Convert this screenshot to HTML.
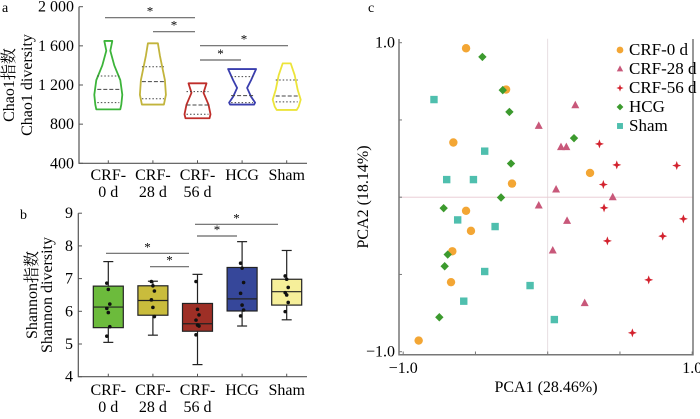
<!DOCTYPE html>
<html><head><meta charset="utf-8"><style>
body{margin:0;background:#fff}
svg{display:block;font-family:"Liberation Serif","Noto Serif CJK SC",serif}
</style></head><body>
<svg id="s" width="700" height="419" viewBox="0 0 700 419" xmlns="http://www.w3.org/2000/svg"></svg>
<script>
const categories=["CRF-0 d","CRF-28 d","CRF-56 d","HCG","Sham"];
// Panel a: violin stats
const vMin=[951,1000,860,1000,945];
const vMax=[1650,1626,1217,1363,1421];
const vQ1=[1020,1060,901,1020,1027];
const vMed=[1155,1234,996,1091,1088];
const vQ3=[1292,1387,1132,1285,1251];
const vDens=[
 [[1650,4],[1550,2],[1400,6],[1250,12],[1100,14],[1000,13],[951,12]],
 [[1626,5],[1500,7],[1400,9],[1250,12],[1100,13],[1000,11]],
 [[1217,9],[1120,6],[1000,11],[900,13],[860,12]],
 [[1363,14],[1250,9],[1170,5],[1080,9],[1020,13],[1000,12]],
 [[1421,4],[1300,8],[1150,11],[1050,14],[980,12],[945,10]]
];
const aTicks=[400,800,1200,1600,2000];
const aTickLabels=["400","800","1 200","1 600","2 000"];
// Panel b
const bLo=[5.05,5.27,4.37,5.55,5.74];
const bHi=[7.52,6.92,7.13,8.13,7.86];
const bQ1=[5.5,5.88,5.39,6.01,6.19];
const bMed=[6.13,6.33,5.62,6.38,6.6];
const bQ3=[6.77,6.78,6.24,7.34,6.98];
const bPts=[
 [6.86,6.67,6.22,6.09,5.96,5.53,5.24],
 [6.91,6.78,6.62,6.35,6.12,5.84],
 [6.91,6.06,5.89,5.73,5.58,5.55,5.28],
 [7.47,7.32,6.88,6.55,6.19,6.04,5.86],
 [7.08,6.98,6.73,6.57,6.5,6.27,5.99]
];
const bTicks=[4,5,6,7,8,9];
// PCA
const pcaGroups=["CRF-0 d","CRF-28 d","CRF-56 d","HCG","Sham"];
const pcaX=[
 [-0.565,-0.288,-0.653,0.293,-0.247,-0.565,-0.531,-0.660,-0.669,-0.893],
 [0.191,-0.062,0.092,0.129,0.058,0.450,-0.062,0.134,0.035,0.256],
 [0.358,0.478,0.893,0.385,0.390,0.939,0.796,0.413,0.699,0.586],
 [-0.452,-0.311,-0.265,0.182,-0.254,-0.323,-0.720,-0.692,-0.713,-0.750],
 [-0.787,-0.436,-0.699,-0.514,-0.623,-0.364,-0.436,-0.122,-0.581,0.046]
];
const pcaY=[
 [0.964,0.697,0.354,0.157,0.088,-0.088,-0.218,-0.350,-0.550,-0.928],
 [0.595,0.462,0.324,0.324,0.050,0.0,-0.054,-0.153,-0.345,-0.686],
 [0.345,0.209,0.205,0.082,-0.069,-0.140,-0.252,-0.283,-0.535,-0.878],
 [0.908,0.693,0.552,0.382,0.218,-0.002,-0.071,-0.371,-0.447,-0.777],
 [0.632,0.298,0.114,0.114,-0.147,-0.190,-0.481,-0.572,-0.673,-0.792]
];

const S=document.getElementById('s');
const NS="http://www.w3.org/2000/svg";
function mk(tag,at,txt){const e=document.createElementNS(NS,tag);for(const k in at)e.setAttribute(k,at[k]);if(txt!==undefined)e.textContent=txt;S.appendChild(e);return e;}
const catX=i=>108.3+i*44.6;
const ya=v=>163.3-(v-400)/1600*156.6;
const yb=v=>376.7-(v-4)*32.7;
const px=v=>547.7+v*144.5;
const py=v=>197.2-v*154.5;
const FS=16;

const vStroke=["#3cb43a","#c2b43c","#bf2e2a","#3a3eae","#ece43a"];
const bFill=["#6cbb3c","#c9bc3c","#9e2f26","#36479a","#f6ef9a"];

let e;
e=mk('text',{x:2,y:12,'font-size':14},'a');

e=mk('path',{d:`M79,${ya(2000)} V163.3 H307`,stroke:'#555','stroke-width':1.2,fill:'none'});

aTicks.forEach((t,i)=>{
 mk('line',{x1:79,x2:83,y1:ya(t),y2:ya(t),stroke:'#555'});
 e=mk('text',{x:74,y:ya(t)+5,'font-size':FS,'text-anchor':'end'},aTickLabels[i]);
 
});
e=mk('text',{transform:'translate(14,85) rotate(-90)','font-size':FS,'text-anchor':'middle'},'Chao1指数');

e=mk('text',{transform:'translate(32,85) rotate(-90)','font-size':FS,'text-anchor':'middle'},'Chao1 diversity');

function catLabels(y0,tag){
 categories.forEach((c,i)=>{
  let l1=c.startsWith('CRF')?'CRF-':c;
  e=mk('text',{x:catX(i),y:y0,'font-size':FS,'text-anchor':'middle'},l1);
  
  mk('line',{x1:catX(i),x2:catX(i),y1:tag==='a'?163.3:376.7,y2:(tag==='a'?163.3:376.7)-3,stroke:'#555'});
  if(c.startsWith('CRF')){
   e=mk('text',{x:catX(i),y:y0+17,'font-size':FS,'text-anchor':'middle'},c.replace('CRF-',''));
   
  }
 });
}
catLabels(180,'a');
categories.forEach((c,i)=>{
 const cx=catX(i),d=vDens[i];
 let r=d.map(p=>`${cx+p[1]},${ya(p[0])}`),l=d.slice().reverse().map(p=>`${cx-p[1]},${ya(p[0])}`);
 e=mk('path',{d:'M'+r.join(' L')+' L'+l.join(' L')+'Z',fill:'none',stroke:vStroke[i],'stroke-width':1.8,'stroke-linejoin':'round'});
 
 [[vQ1[i],'1.5,2'],[vMed[i],'4,2'],[vQ3[i],'1.5,2']].forEach(([v,da])=>{
  mk('line',{x1:cx-11,x2:cx+11,y1:ya(v),y2:ya(v),stroke:'#444','stroke-width':1,'stroke-dasharray':da});
 });
});
function sig(x1,x2,y,tag){
 e=mk('line',{x1,x2,y1:y,y2:y,stroke:'#666','stroke-width':1.2});
 
 e=mk('text',{x:(x1+x2)/2,y:y-2,'font-size':13,'text-anchor':'middle'},'*');
 
}
sig(105,195,17.7,'a');sig(153,195,31.7,'a');sig(200,288,45.7,'a');sig(200,241,60,'a');

e=mk('text',{x:20,y:219,'font-size':14},'b');

e=mk('path',{d:`M78.3,${yb(9)} V376.7 H307`,stroke:'#555','stroke-width':1.2,fill:'none'});

bTicks.forEach(t=>{
 mk('line',{x1:78.3,x2:82,y1:yb(t),y2:yb(t),stroke:'#555'});
 e=mk('text',{x:73,y:yb(t)+5,'font-size':FS,'text-anchor':'end'},String(t));
 
});
e=mk('text',{transform:'translate(37,295) rotate(-90)','font-size':FS,'text-anchor':'middle'},'Shannon指数');

e=mk('text',{transform:'translate(52,295) rotate(-90)','font-size':FS,'text-anchor':'middle'},'Shannon diversity');

catLabels(395,'b');
categories.forEach((c,i)=>{
 const cx=catX(i);
 mk('line',{x1:cx,x2:cx,y1:yb(bHi[i]),y2:yb(bLo[i]),stroke:'#222','stroke-width':1.2});
 mk('line',{x1:cx-5,x2:cx+5,y1:yb(bHi[i]),y2:yb(bHi[i]),stroke:'#222','stroke-width':1.2});
 mk('line',{x1:cx-5,x2:cx+5,y1:yb(bLo[i]),y2:yb(bLo[i]),stroke:'#222','stroke-width':1.2});
 e=mk('rect',{x:cx-15,y:yb(bQ3[i]),width:30,height:yb(bQ1[i])-yb(bQ3[i]),fill:bFill[i],stroke:'#222','stroke-width':1.2});
 
 mk('line',{x1:cx-15,x2:cx+15,y1:yb(bMed[i]),y2:yb(bMed[i]),stroke:'#222','stroke-width':1.2});
 bPts[i].forEach((v,j)=>{
  e=mk('circle',{cx:cx+((j%3)-1)*1.5,cy:yb(v),r:1.8,fill:'#111'});
  
 });
});
sig(106,189,253.3,'b');sig(150,189,266.7,'b');sig(195,278,224.3,'b');sig(197,237,236,'b');

e=mk('text',{x:368,y:12,'font-size':14},'c');

mk('line',{x1:px(0),x2:px(0),y1:py(1)-4,y2:354.7,stroke:'#e2d6da','stroke-width':0.8});
mk('line',{x1:399,x2:693,y1:py(0),y2:py(0),stroke:'#e8c8d0','stroke-width':0.8});
e=mk('path',{d:`M399,39 V354.7 H693 V39`,stroke:'#777','stroke-width':1.5,fill:'none'});

[-1,-0.5,0,0.5,1].forEach(t=>{
 mk('line',{x1:px(t),x2:px(t),y1:354.7,y2:351.5,stroke:'#777'});
 mk('line',{x1:399,x2:402,y1:py(t),y2:py(t),stroke:'#777'});
});
[[-1,'−1.0'],[1,'1.0']].forEach(([t,l])=>{
 e=mk('text',{x:px(t),y:373,'font-size':FS,'text-anchor':'middle'},l);
 
 e=mk('text',{x:395,y:py(t)+5,'font-size':FS,'text-anchor':'end'},l);
 
});
e=mk('text',{x:546,y:392,'font-size':FS,'text-anchor':'middle'},'PCA1 (28.46%)');

e=mk('text',{transform:'translate(368,197) rotate(-90)','font-size':FS,'text-anchor':'middle'},'PCA2 (18.14%)');

const mCol=["#f3a634","#c8587a","#d3222e","#3c9a2e","#4fbfae"];
function marker(g,x,y,big){
 const k=big||1;
 if(g===0)return mk('circle',{cx:x,cy:y,r:4.2*k,fill:mCol[0]});
 if(g===1)return mk('path',{d:`M${x},${y-4.5*k} L${x+4*k},${y+3*k} L${x-4*k},${y+3*k}Z`,fill:mCol[1]});
 if(g===2)return mk('path',{d:`M${x},${y-4.5*k} L${x+1.2*k},${y-1.2*k} L${x+4.5*k},${y} L${x+1.2*k},${y+1.2*k} L${x},${y+4.5*k} L${x-1.2*k},${y+1.2*k} L${x-4.5*k},${y} L${x-1.2*k},${y-1.2*k}Z`,fill:mCol[2]});
 if(g===3)return mk('path',{d:`M${x},${y-4.2*k} L${x+4.2*k},${y} L${x},${y+4.2*k} L${x-4.2*k},${y}Z`,fill:mCol[3]});
 return mk('rect',{x:x-3.7*k,y:y-3.7*k,width:7.4*k,height:7.4*k,fill:mCol[4]});
}
pcaX.forEach((xs,g)=>xs.forEach((v,j)=>{
 const m=marker(g,px(v),py(pcaY[g][j]));
 
 
}));
pcaGroups.forEach((n,g)=>{
 const y=50+g*19;
 const m=marker(g,620,y,0.8);
 
 
 e=mk('text',{x:629,y:y+5,'font-size':17},n);
 
});
</script>
</body></html>
